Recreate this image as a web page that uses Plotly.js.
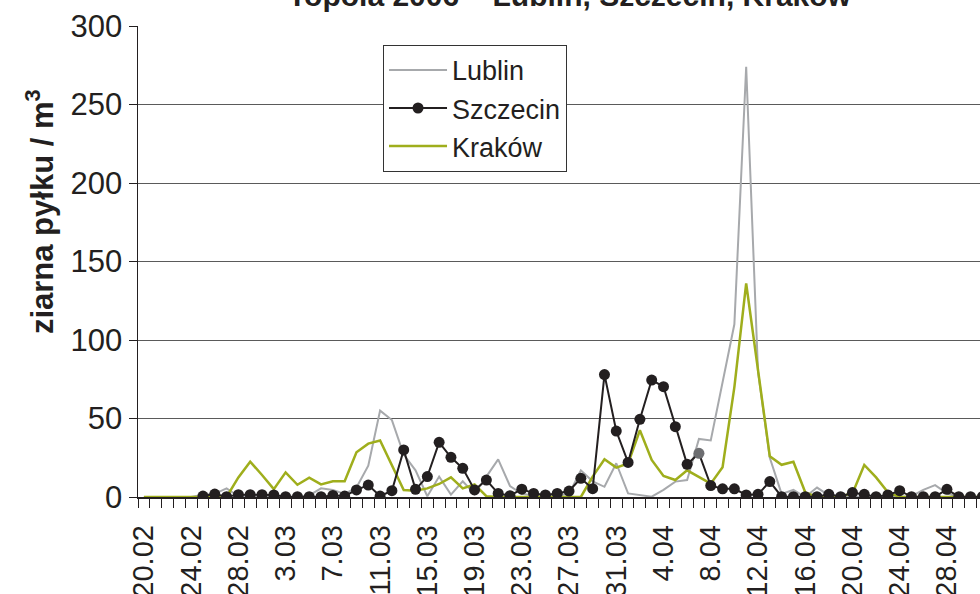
<!DOCTYPE html>
<html>
<head>
<meta charset="utf-8">
<script src="https://cdn.plot.ly/plotly-3.0.1.min.js"></script>
<style>html,body{margin:0;padding:0;background:#fff;}#chart{width:980px;height:594px;}</style>
</head>
<body>
<div id="chart"></div>
<script>
const categories = ["20.02","21.02","22.02","23.02","24.02","25.02","26.02","27.02","28.02","29.02",
"1.03","2.03","3.03","4.03","5.03","6.03","7.03","8.03","9.03","10.03",
"11.03","12.03","13.03","14.03","15.03","16.03","17.03","18.03","19.03","20.03",
"21.03","22.03","23.03","24.03","25.03","26.03","27.03","28.03","29.03","30.03",
"31.03","1.04","2.04","3.04","4.04","5.04","6.04","7.04","8.04","9.04",
"10.04","11.04","12.04","13.04","14.04","15.04","16.04","17.04","18.04","19.04",
"20.04","21.04","22.04","23.04","24.04","25.04","26.04","27.04","28.04","29.04",
"30.04","1.05"];

const lublin = [0,0,0,0,0,1.5,2,5.5,0.5,0,
0,0,0,0,1,5.5,4.5,2,6,20,
55,49,27,17,0.5,13,1.5,10,2,13,
24,7,2,1,0.5,1,2,17,10,6.5,
21.5,2.3,1.3,0.2,4.5,9.8,10.8,37,36,72,
110,274,80,25,2,4.5,0,6,1,0.5,
0,0.5,0,1,0,0.5,4.5,7.6,2.3,0,
0,0];

const szczecin = [null,null,null,null,null,0.6,1.9,0.2,1.5,1.5,
1.5,1.3,0.2,0.2,0.2,0.2,1,0.6,4.5,7.6,
0.6,4,30,4.9,13,34.8,25.3,18.3,4.5,10.8,
2.3,0.8,5,2.3,1.3,2.3,3.8,11.9,5.3,78,
42,22,49.5,74.5,70.3,44.8,20.8,27.8,7.3,5.2,
5.2,1.3,1.7,9.8,0.2,0.2,0.2,0.2,1.7,0.2,
2.8,1.7,0.2,1.3,4,0.2,0.2,0.2,4.9,0.2,
0.2,0.2];

const krakow = [0,0,0,0,0,0,0,0,12.5,22.5,
14,5,15.7,7.8,12.3,8,10,10,28.5,34,
36,20,4.5,4,5.5,8.3,12.5,5.5,8,0.5,
0,0,0,0,0,0,0,0,13,24,
18.7,21.4,42.5,23.6,13.4,10.8,17,13,8.5,19,
70,136,80,26,20.5,22.5,3,0,0,0.5,
2.3,20.4,12.5,3,0,0,0,0,0,0,
0,0];

const seriesNames = ["Lublin","Szczecin","Kraków"];
const highlightIndex = 47; // Szczecin point drawn in grey
const yTicks = [0,50,100,150,200,250,300];
const titleText = "Topola 2006 \u2013 Lublin, Szczecin, Kraków";
const yTitleText = "ziarna pyłku / m<sup>3</sup>";

const tickText = categories.map((c,i) => (i % 4 === 0 ? c : " "));
const markerColors = szczecin.map((v,i) => (i === highlightIndex ? "#6d6e71" : "#231f20"));

const traces = [
  {x: categories, y: lublin, name: seriesNames[0], type: "scatter", mode: "lines",
   line: {color: "#a7a9ac", width: 2}, legendrank: 1},
  {x: categories, y: krakow, name: seriesNames[2], type: "scatter", mode: "lines",
   line: {color: "#9fae1c", width: 2.5}, legendrank: 3},
  {x: categories, y: szczecin, name: seriesNames[1], type: "scatter", mode: "lines+markers",
   line: {color: "#231f20", width: 2}, marker: {size: 11, color: markerColors},
   legendrank: 2}
];

const font = "Arial, 'Liberation Sans', sans-serif";

const layout = {
  width: 980, height: 594,
  margin: {l: 138, r: 0, t: 26, b: 97},
  paper_bgcolor: "#fff", plot_bgcolor: "#fff",
  font: {family: font, color: "#231f20"},
  title: {text: ""},
  xaxis: {type: "category", categoryorder: "array", categoryarray: categories,
          range: [-0.5, 70.8], tickmode: "array", tickvals: categories, ticktext: tickText,
          tickson: "boundaries", ticks: "outside", ticklen: 9, tickcolor: "#231f20", tickwidth: 1,
          tickangle: -90, ticklabelstandoff: 15, tickfont: {size: 29, family: font, color: "#231f20"},
          showgrid: false, showline: true, linecolor: "#231f20", linewidth: 1.5,
          zeroline: false, fixedrange: true},
  yaxis: {range: [0, 300], tickmode: "array", tickvals: yTicks, ticktext: yTicks.map(String),
          ticks: "outside", ticklen: 8, tickcolor: "#231f20", tickwidth: 1,
          tickfont: {size: 31, family: font, color: "#231f20"},
          showgrid: true, gridcolor: "#5a5a5a", gridwidth: 1,
          showline: true, linecolor: "#231f20", linewidth: 1.5, zeroline: false, fixedrange: true},
  legend: {x: 0.291, y: 0.96, xanchor: "left", yanchor: "top", bgcolor: "#fff",
           bordercolor: "#333", borderwidth: 1, font: {size: 27, family: font, color: "#231f20"},
           itemwidth: 58, tracegroupgap: 0},
  annotations: [
    {text: "<b>" + titleText + "</b>", xref: "paper", yref: "paper",
     x: (570 - 138) / 842, y: (497 + 5) / 471, xanchor: "center", yanchor: "middle",
     showarrow: false, font: {size: 30, family: font, color: "#231f20"}},
    {text: "<b>" + yTitleText + "</b>", textangle: -90, xref: "paper", yref: "paper",
     x: -0.1164, y: 0.607, xanchor: "center", yanchor: "middle", showarrow: false,
     font: {size: 31, family: font, color: "#231f20"}}],
  showlegend: true
};

Plotly.newPlot("chart", traces, layout, {staticPlot: true, displayModeBar: false});
</script>
</body>
</html>
